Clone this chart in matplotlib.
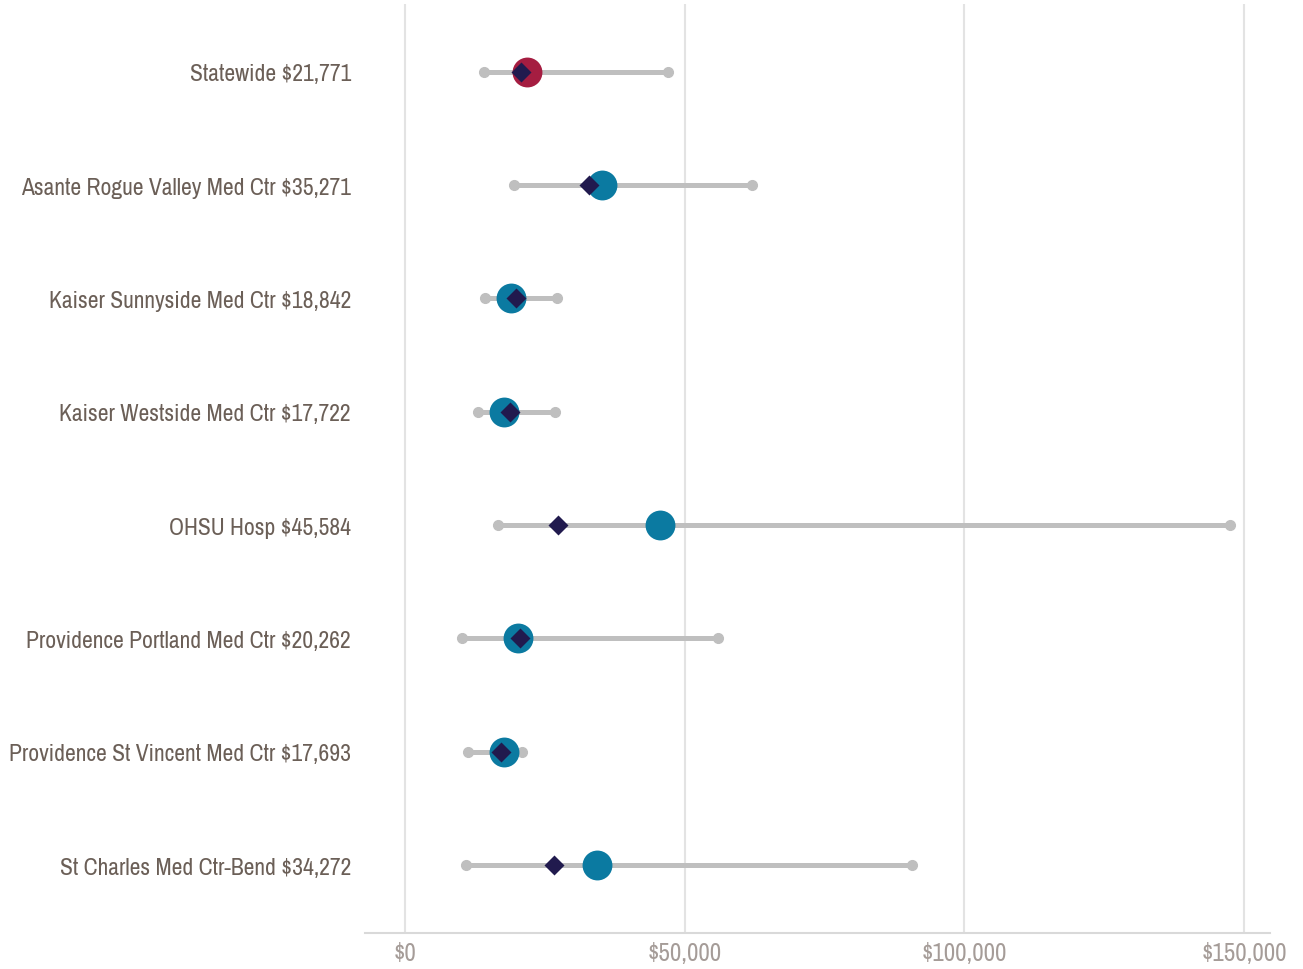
import matplotlib
matplotlib.use("Agg")
from matplotlib import pyplot as plt
from matplotlib.ticker import FuncFormatter

# hospitals, mean cost (circle), median (diamond), min/max range
names = ["Statewide", "Asante Rogue Valley Med Ctr", "Kaiser Sunnyside Med Ctr",
         "Kaiser Westside Med Ctr", "OHSU Hosp", "Providence Portland Med Ctr",
         "Providence St Vincent Med Ctr", "St Charles Med Ctr-Bend"]
means = [21771, 35271, 18842, 17722, 45584, 20262, 17693, 34272]
medians = [20750, 32900, 19860, 18780, 27370, 20570, 17170, 26650]
lows = [14130, 19500, 14300, 13060, 16640, 10200, 11270, 10900]
highs = [47050, 62075, 27200, 26830, 147400, 56000, 20930, 90700]
ticks = [0, 50000, 100000, 150000]

plt.rcParams["font.family"] = ["Archivo Narrow", "DejaVu Sans"]

fig = plt.figure(figsize=(13.03, 9.70), dpi=100)
ax = fig.add_axes([0.280, 0.037, 0.695, 0.958])

rows = list(range(len(names)))
for i in rows:
    ax.plot([lows[i], highs[i]], [i, i], color="#bfbfbf", lw=3.6,
            solid_capstyle="butt", zorder=2)
    ax.plot([lows[i], highs[i]], [i, i], "o", color="#bfbfbf", ms=7, zorder=2)
    c = "#a51d41" if i == 0 else "#0b7aa1"
    ax.plot(means[i], i, "o", color=c, ms=21.5, mec="none", zorder=3)
    ax.plot(medians[i], i, "D", color="#211a4e", ms=10, mec="none", zorder=4)

ax.set_yticks(rows)
ax.set_yticklabels([f"{n} ${m:,}" for n, m in zip(names, means)],
                   fontsize=17, color="#6b5f57", fontweight="medium")
ax.set_ylim(7.6, -0.6)
ax.set_xlim(-7200, 154700)
ax.set_xticks(ticks)
ax.xaxis.set_major_formatter(FuncFormatter(lambda v, p: f"${v:,.0f}"))
ax.tick_params(axis="x", labelsize=18, labelcolor="#a59c98", length=0, pad=6)
ax.tick_params(axis="y", length=0, pad=10)
ax.grid(axis="x", color="#e3e3e3", lw=1.5, zorder=0)
for s in ["top", "right", "left"]:
    ax.spines[s].set_visible(False)
ax.spines["bottom"].set_color("#d9d9d9")
ax.spines["bottom"].set_linewidth(1.5)

fig.savefig("out.png", dpi=100)
